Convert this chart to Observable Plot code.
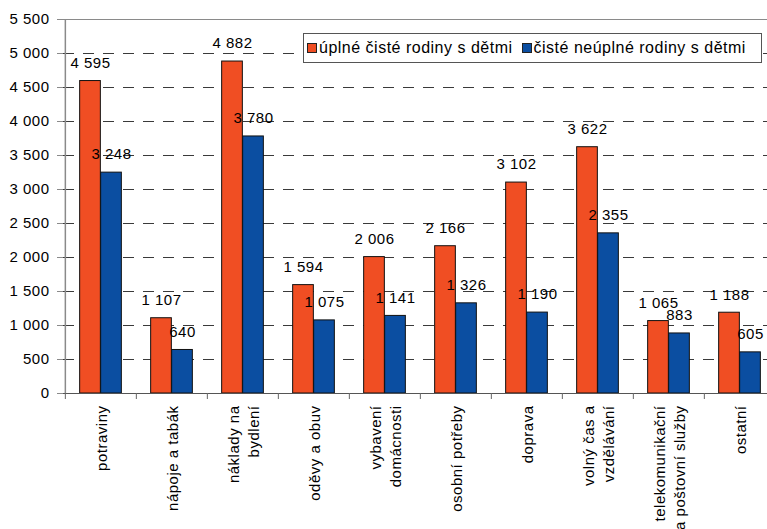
<!DOCTYPE html>
<html><head><meta charset="utf-8">
<script src="https://cdn.jsdelivr.net/npm/d3@7"></script>
<script src="https://cdn.jsdelivr.net/npm/@observablehq/plot@0.6"></script>
<style>
body{margin:0;background:#fff;}
#wrap{position:relative;width:767px;height:529px;overflow:hidden;font-family:"Liberation Sans",Arial,sans-serif;}
#legend{position:absolute;left:303px;top:33px;width:459px;height:30px;box-sizing:border-box;border:1px solid #555;background:#fff;display:flex;align-items:center;font-size:16px;letter-spacing:0.5px;color:#000;padding-left:3px;white-space:nowrap;}
.sw{width:10px;height:10px;border:1px solid #222;box-sizing:border-box;margin-right:2px;flex:none;}
.item{display:flex;align-items:center;margin-right:9px;}
</style></head><body><div id="wrap"><div id="legend"></div></div>
<script>
const categories = ["potraviny","nápoje a tabák","náklady na\nbydlení","oděvy a obuv","vybavení\ndomácnosti","osobní potřeby","doprava","volný čas a\nvzdělávání","telekomunikační\na poštovní služby","ostatní"];
const series = ["úplné čisté rodiny s dětmi","čisté neúplné rodiny s dětmi"];
const colors = ["#F04E23","#0B4EA1"];
const fullFamilies = [4595,1107,4882,1594,2006,2166,3102,3622,1065,1188];
const singleParent = [3248,640,3780,1075,1141,1326,1190,2355,883,605];
const yTicks = [0,500,1000,1500,2000,2500,3000,3500,4000,4500,5000,5500];

const fmt = d3.formatLocale({decimal:",",thousands:" ",grouping:[3],currency:["",""]}).format(",d");
const rows = categories.map((c,i)=>({cat:c, a:fullFamilies[i], b:singleParent[i]}));

const W=767,H=529,mL=63,mT=19,mB=136,mR=-9;
const bw=(W-mR-mL)/categories.length;
const barW=21;
const pad=(bw-2*barW)/2;
const font='"Liberation Sans",Arial,sans-serif';

const chart = Plot.plot({
  width:W,height:H,marginLeft:mL,marginRight:mR,marginTop:mT,marginBottom:mB,
  style:`font-family:${font};font-size:15px;letter-spacing:0.5px;color:#000;background:#fff;`,
  x:{type:"band",domain:categories,padding:0,axis:null},
  y:{domain:[yTicks[0],yTicks[yTicks.length-1]],axis:null},
  marks:[
    Plot.ruleY(yTicks.slice(1,-1),{stroke:"#3a3a3a",strokeDasharray:"11,9"}),
    Plot.ruleY([yTicks[yTicks.length-1]],{stroke:"#8a8a8a"}),
    Plot.barY(rows,{x:"cat",y:"a",fill:colors[0],stroke:"#111",insetLeft:pad,insetRight:bw-pad-barW}),
    Plot.barY(rows,{x:"cat",y:"b",fill:colors[1],stroke:"#111",insetLeft:pad+barW,insetRight:pad}),
    Plot.ruleY([0],{stroke:"#555"}),
    Plot.ruleX([categories[0]],{x:d=>d,dx:-bw/2,y1:yTicks[0],y2:yTicks[yTicks.length-1],stroke:"#8a8a8a",strokeWidth:1.5}),
    Plot.ruleX(categories,{x:d=>d,dx:-bw/2,y1:0,y2:0,insetTop:6,stroke:"#666"}),
    Plot.axisY({ticks:yTicks,tickSize:6,tickPadding:8,tickFormat:fmt,stroke:"#8a8a8a",fill:"#000",fontSize:15}),
    Plot.text(rows,{x:"cat",y:"a",text:d=>fmt(d.a),dx:-barW/2,dy:-18,fill:"#000"}),
    Plot.text(rows,{x:"cat",y:"b",text:d=>fmt(d.b),dx:barW/2,dy:-18,fill:"#000"}),
    Plot.text(categories,{x:d=>d,frameAnchor:"bottom",rotate:-90,textAnchor:"end",lineAnchor:"middle",dy:12,lineHeight:1.33,fill:"#000"})
  ]
});
const wrap=document.getElementById("wrap");
wrap.insertBefore(chart, wrap.firstChild);
const lg=document.getElementById("legend");
series.forEach((s,i)=>{
  const it=document.createElement("div");it.className="item";
  const sw=document.createElement("div");sw.className="sw";sw.style.background=colors[i];
  const t=document.createElement("span");t.textContent=s;
  it.appendChild(sw);it.appendChild(t);lg.appendChild(it);
});
</script></body></html>
